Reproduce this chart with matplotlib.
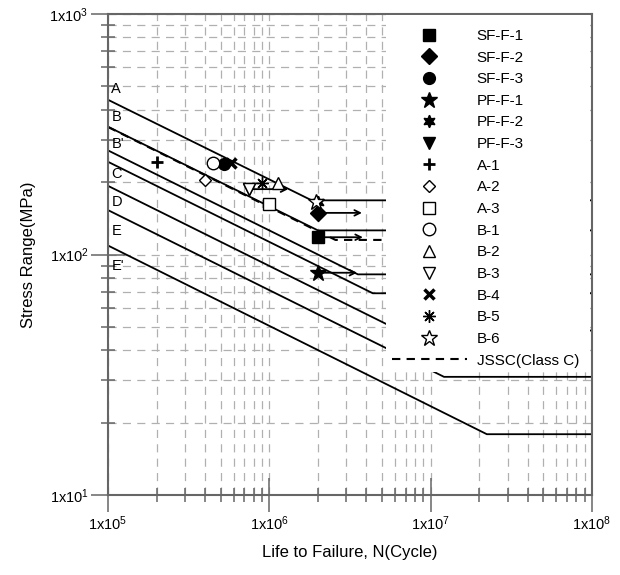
import numpy as np
import matplotlib
matplotlib.use('Agg')
import matplotlib.pyplot as plt
from matplotlib.patches import Rectangle
from matplotlib.ticker import LogLocator, NullFormatter, FuncFormatter

plt.rcParams['font.family'] = ['Liberation Sans', 'DejaVu Sans']
plt.rcParams['mathtext.default'] = 'regular'

# design curves: stress at N=1e5, knee (N, S) where the line goes flat, flat to 1e8
categories = ['A', 'B', "B'", 'C', 'D', 'E', "E'"]
start_S = [440, 340, 271, 243, 193, 153, 109]
knee_N = [1.83e6, 2.0e6, 3.54e6, 4.38e6, 6.4e6, 1.21e7, 2.23e7]
knee_S = [168, 126, 82.7, 69, 48.3, 31, 17.9]
label_S = [487, 373, 288, 216, 165, 125, 89.6]

# JSSC class C curve
jssc_N = [1e5, 2.57e6, 5e6]
jssc_S = [339, 115, 115]

# test specimens
names = ['SF-F-1', 'SF-F-2', 'SF-F-3', 'PF-F-1', 'PF-F-2', 'PF-F-3',
         'A-1', 'A-2', 'A-3', 'B-1', 'B-2', 'B-3', 'B-4', 'B-5', 'B-6']
spec_N = [2.0e6, 2.0e6, 5.2e5, 2.0e6, 2.0e6, 7.5e5,
          2.0e5, 4.0e5, 1.0e6, 4.5e5, 1.13e6, 7.5e5, 5.8e5, 9.0e5, 1.95e6]
spec_S = [118, 149, 238, 84, 166, 187,
          243, 204, 162, 240, 198, 187, 240, 198, 165]

# run-outs (specimen -> arrow end N)
runout_names = ['SF-F-1', 'SF-F-2', 'PF-F-1', 'PF-F-3']
runout_end = [3.8e6, 3.75e6, 3.5e6, 1.31e6]

styles = {
    'SF-F-1': dict(marker='s', ms=8, mfc='k'),
    'SF-F-2': dict(marker='D', ms=8, mfc='k'),
    'SF-F-3': dict(marker='o', ms=8.5, mfc='k'),
    'PF-F-1': dict(marker='*', ms=12, mfc='k'),
    'PF-F-2': dict(marker=(6, 1, 0), ms=9, mfc='k'),
    'PF-F-3': dict(marker='v', ms=8, mfc='k'),
    'A-1': dict(marker='+', ms=9, mew=2),
    'A-2': dict(marker='D', ms=6, mfc='white', mew=1),
    'A-3': dict(marker='s', ms=8.5, mfc='white', mew=1),
    'B-1': dict(marker='o', ms=9, mfc='white', mew=1),
    'B-2': dict(marker='^', ms=8, mfc='white', mew=1),
    'B-3': dict(marker='v', ms=8, mfc='white', mew=1),
    'B-4': dict(marker='x', ms=7, mew=2.5),
    'B-5': dict(marker=(8, 2, 0), ms=9, mew=1),
    'B-6': dict(marker='*', ms=12, mfc='white', mew=1),
}

fig = plt.figure(figsize=(6.2, 5.75), dpi=100)
ax = fig.add_axes([0.1742, 0.1391, 0.7806, 0.8365])
ax.set_xscale('log')
ax.set_yscale('log')
ax.set_xlim(1e5, 1e8)
ax.set_ylim(10, 1000)

for cat, s0, kn, ks, ls in zip(categories, start_S, knee_N, knee_S, label_S):
    ax.plot([1e5, kn, 1e8], [s0, ks, ks], color='k', lw=1.3, zorder=2)
    ax.text(1.05e5, ls, cat, fontsize=10.5, ha='left', va='center', zorder=4)

jssc, = ax.plot(jssc_N, jssc_S, color='k', lw=1.5, ls=(0, (4, 3)),
                label='JSSC(Class C)', zorder=2)

for nm, e in zip(runout_names, runout_end):
    i = names.index(nm)
    ax.annotate('', xy=(e, spec_S[i]), xytext=(spec_N[i], spec_S[i]),
                arrowprops=dict(arrowstyle='->', color='k', lw=1.3,
                                shrinkA=0, shrinkB=0), zorder=3)

handles = []
for nm, n, s in zip(names, spec_N, spec_S):
    st = dict(color='k', ls='none', mew=1)
    st.update(styles[nm])
    h, = ax.plot([n], [s], label=nm, zorder=4, **st)
    handles.append(h)
handles.append(jssc)

# white area behind the legend
ax.add_patch(Rectangle((0.574, 0.256), 0.422, 0.742, transform=ax.transAxes,
                       facecolor='white', edgecolor='none', zorder=3))

ax.legend(handles=handles, loc='upper left', bbox_to_anchor=(0.5868, 0.969),
          frameon=False, fontsize=11, numpoints=1, borderpad=0,
          borderaxespad=0, handlelength=4.9, handletextpad=0.65,
          labelspacing=0.5)

ax.grid(True, which='both', color='#b0b0b0', lw=0.9, ls=(0, (6.5, 5)))
ax.set_axisbelow(True)

ax.xaxis.set_major_locator(LogLocator(base=10))
ax.yaxis.set_major_locator(LogLocator(base=10))
ax.xaxis.set_minor_locator(LogLocator(base=10, subs=np.arange(2, 10)))
ax.yaxis.set_minor_locator(LogLocator(base=10, subs=np.arange(2, 10)))
ax.xaxis.set_minor_formatter(NullFormatter())
ax.yaxis.set_minor_formatter(NullFormatter())
fmt = FuncFormatter(lambda v, p: r'1x10$^{%d}$' % round(np.log10(v)))
ax.xaxis.set_major_formatter(fmt)
ax.yaxis.set_major_formatter(fmt)

ax.tick_params(which='major', direction='inout', length=24, width=1.1,
               color='#666666', labelsize=10.5, pad=2)
ax.tick_params(which='minor', direction='inout', length=10, width=1.1,
               color='#666666')
for sp in ax.spines.values():
    sp.set_color('#666666')
    sp.set_linewidth(1.5)

ax.set_xlabel('Life to Failure, N(Cycle)', fontsize=12)
ax.set_ylabel('Stress Range(MPa)', fontsize=12)
ax.xaxis.set_label_coords(0.5, -0.104)
ax.yaxis.set_label_coords(-0.149, 0.5)

plt.savefig('out.png', dpi=100)
